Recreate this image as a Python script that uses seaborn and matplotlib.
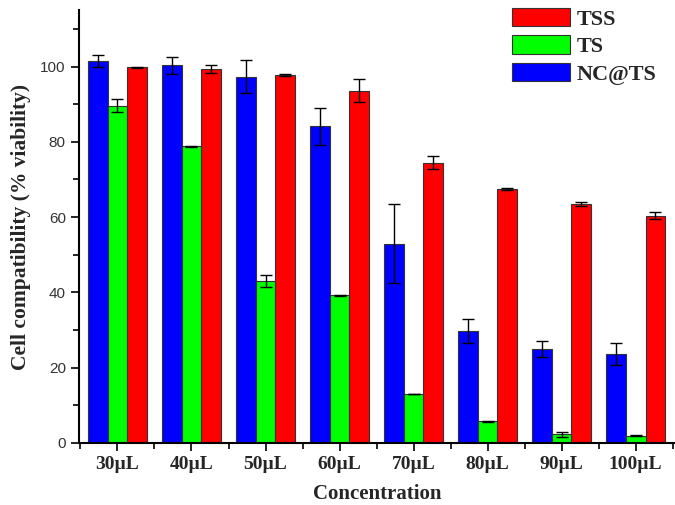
import numpy as np
import pandas as pd
import matplotlib
matplotlib.use("Agg")
import matplotlib.pyplot as plt
import seaborn as sns
from matplotlib.ticker import MultipleLocator

sns.set_style("ticks")

concentrations = ["30\u00b5L", "40\u00b5L", "50\u00b5L", "60\u00b5L", "70\u00b5L", "80\u00b5L", "90\u00b5L", "100\u00b5L"]
groups = ["NC@TS", "TS", "TSS"]
nc_ts = [101.4, 100.3, 97.3, 84.1, 52.9, 29.8, 24.9, 23.6]
nc_ts_err = [1.6, 2.3, 4.4, 5.0, 10.5, 3.2, 2.2, 2.9]
ts = [89.6, 78.8, 42.9, 39.2, 13.0, 5.7, 2.3, 1.9]
ts_err = [1.8, 0.2, 1.6, 0.1, 0.1, 0.2, 0.7, 0.2]
tss = [99.8, 99.4, 97.7, 93.6, 74.4, 67.5, 63.4, 60.4]
tss_err = [0.1, 1.0, 0.2, 3.1, 1.7, 0.2, 0.5, 1.0]
colors = {"NC@TS": "#0000ff", "TS": "#00ff00", "TSS": "#ff0000"}

values = {"NC@TS": nc_ts, "TS": ts, "TSS": tss}
errors = {"NC@TS": nc_ts_err, "TS": ts_err, "TSS": tss_err}
rows = []
for g in groups:
    for c, v in zip(concentrations, values[g]):
        rows.append({"Concentration": c, "group": g, "value": v})
df = pd.DataFrame(rows)

fig = plt.figure(figsize=(6.75, 5.05), dpi=100)
ax = fig.add_axes([0.117, 0.123, 0.885, 0.857])

sns.barplot(data=df, x="Concentration", y="value", hue="group", hue_order=groups,
            order=concentrations, palette=colors, errorbar=None, width=0.8,
            edgecolor="#333333", linewidth=0.8, saturation=1, ax=ax)

# error bars on top of each bar
for g, cont in zip(groups, ax.containers):
    xs = [p.get_x() + p.get_width() / 2 for p in cont]
    ax.errorbar(xs, values[g], yerr=errors[g], fmt="none", ecolor="black",
                elinewidth=1, capsize=4, capthick=1)

ax.set_ylim(0, 115)
ax.set_xlim(-0.52, 7.55)
ax.yaxis.set_major_locator(MultipleLocator(20))
ax.yaxis.set_minor_locator(MultipleLocator(10))
ax.set_xticks(np.arange(-0.5, 8, 1), minor=True)
ax.tick_params(axis="both", which="major", direction="out", length=6, width=1.2, color="black")
ax.tick_params(axis="both", which="minor", direction="out", length=4, width=1.2, color="black")
for lab in ax.get_yticklabels():
    lab.set_fontfamily("Liberation Sans")
    lab.set_fontsize(11)
    lab.set_color("#333333")
for lab in ax.get_xticklabels():
    lab.set_fontfamily("Liberation Serif")
    lab.set_fontweight("bold")
    lab.set_fontsize(14)

sns.despine(ax=ax)
for s in ["left", "bottom"]:
    ax.spines[s].set_linewidth(1.5)
    ax.spines[s].set_color("black")

ax.set_xlabel("Concentration", fontfamily="Liberation Serif", fontweight="bold",
              fontsize=15, labelpad=8)
ax.set_ylabel("Cell compatibility (% viability)", fontfamily="Liberation Serif",
              fontweight="bold", fontsize=15.5, labelpad=7)

handles, labels = ax.get_legend_handles_labels()
ax.legend(handles[::-1], labels[::-1], loc="upper left", bbox_to_anchor=(0.725, 1.005),
          frameon=False, handlelength=2.6, handleheight=0.9, labelspacing=0.25,
          handletextpad=0.3, borderaxespad=0, borderpad=0,
          prop={"family": "Liberation Serif", "weight": "bold", "size": 16})

fig.savefig("out.png", dpi=100)
